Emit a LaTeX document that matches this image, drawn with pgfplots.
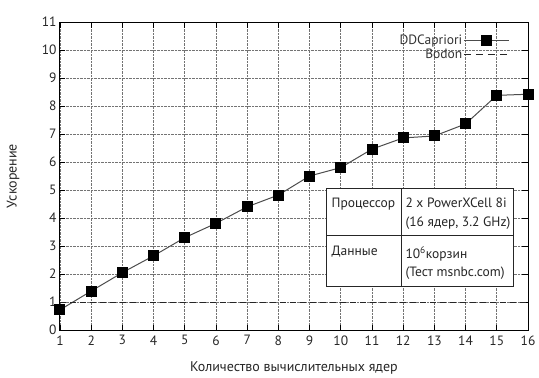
\documentclass[border=0pt]{standalone}
\usepackage{fontspec}
\setmainfont{PT Sans}
\usepackage{pgfplots}
\pgfplotsset{compat=1.18}
\begin{document}
\begin{tikzpicture}
\begin{axis}[
  scale only axis,
  width=468pt, height=308pt,
  xmin=1, xmax=16, ymin=0, ymax=11,
  xtick={1,...,16}, ytick={0,...,11},
  /pgf/number format/assume math mode=true,
  tick label style={font=\fontsize{13.5}{15}\selectfont, text=black!85},
  xticklabel style={yshift=-2pt},
  label style={font=\fontsize{14}{16}\selectfont, text=black!85},
  xlabel={Количество вычислительных ядер},
  ylabel={Ускорение},
  xlabel style={at={(axis description cs:0.5,-0.122)}, anchor=center},
  ylabel style={at={(axis description cs:-0.1,0.5)}, anchor=center, rotate=0},
  tick align=inside, major tick length=5.5pt,
  tick style={black, line width=0.8pt},
  axis line style={line width=1pt},
  grid=major,
  major grid style={black!55, densely dotted, line width=0.7pt},
  legend style={draw=none, fill=none, at={(0.968,0.967)}, anchor=north east,
    font=\fontsize{13.5}{15}\selectfont, row sep=0pt, text=black!80,
    nodes={inner sep=1pt}},
  legend cell align=right,
  legend plot pos=right,
]
\addplot[color=black!70, line width=1pt, mark=square*, mark size=5pt,
  mark options={fill=black, draw=black, solid},
  legend image code/.code={\draw[mark repeat=2,mark phase=2] plot coordinates {(0cm,0cm) (0.8cm,0cm) (1.6cm,0cm)};}]
  coordinates {
  (1,0.72) (2,1.39) (3,2.05) (4,2.65) (5,3.30) (6,3.81) (7,4.40) (8,4.82)
  (9,5.50) (10,5.80) (11,6.46) (12,6.86) (13,6.93) (14,7.36) (15,8.38) (16,8.42)
  };
\addlegendentry{DDCapriori}
\addplot[black!85, line width=1pt, dash pattern=on 6pt off 4pt,
  legend image code/.code={\draw[dash pattern=on 7pt off 5pt] (0cm,0cm) -- (1.6cm,0cm);}]
  coordinates {(1,1) (16,1)};
\addlegendentry{Bodon}
% info table
\draw[black!85, line width=0.9pt, fill=white] (axis cs:9.54,5.07) rectangle (axis cs:15.52,1.54);
\draw[black!85, line width=0.9pt] (axis cs:9.54,3.39) -- (axis cs:15.52,3.39);
\draw[black!85, line width=0.9pt] (axis cs:11.94,5.07) -- (axis cs:11.94,1.54);
\node[anchor=north west, font=\fontsize{13.5}{18.5}\selectfont, inner sep=0pt, text=black!85]
  at ([shift={(5pt,-10pt)}]axis cs:9.54,5.07) {Процессор};
\node[anchor=north west, align=left, font=\fontsize{13.5}{18.5}\selectfont, inner sep=0pt, text=black!85]
  at ([shift={(4pt,-10pt)}]axis cs:11.94,5.07) {2 x PowerXCell 8i\\(16 ядер, 3.2 GHz)};
\node[anchor=north west, font=\fontsize{13.5}{18.5}\selectfont, inner sep=0pt, text=black!85]
  at ([shift={(5pt,-11pt)}]axis cs:9.54,3.39) {Данные};
\node[anchor=north west, align=left, font=\fontsize{13.5}{18.5}\selectfont, inner sep=0pt, text=black!85]
  at ([shift={(4pt,-11pt)}]axis cs:11.94,3.39) {10\textsuperscript{6}корзин\\(Тест msnbc.com)};
\end{axis}
\path ([shift={(-60pt,-46pt)}]current axis.south west) rectangle ([shift={(11pt,22pt)}]current axis.north east);
\end{tikzpicture}
\end{document}
